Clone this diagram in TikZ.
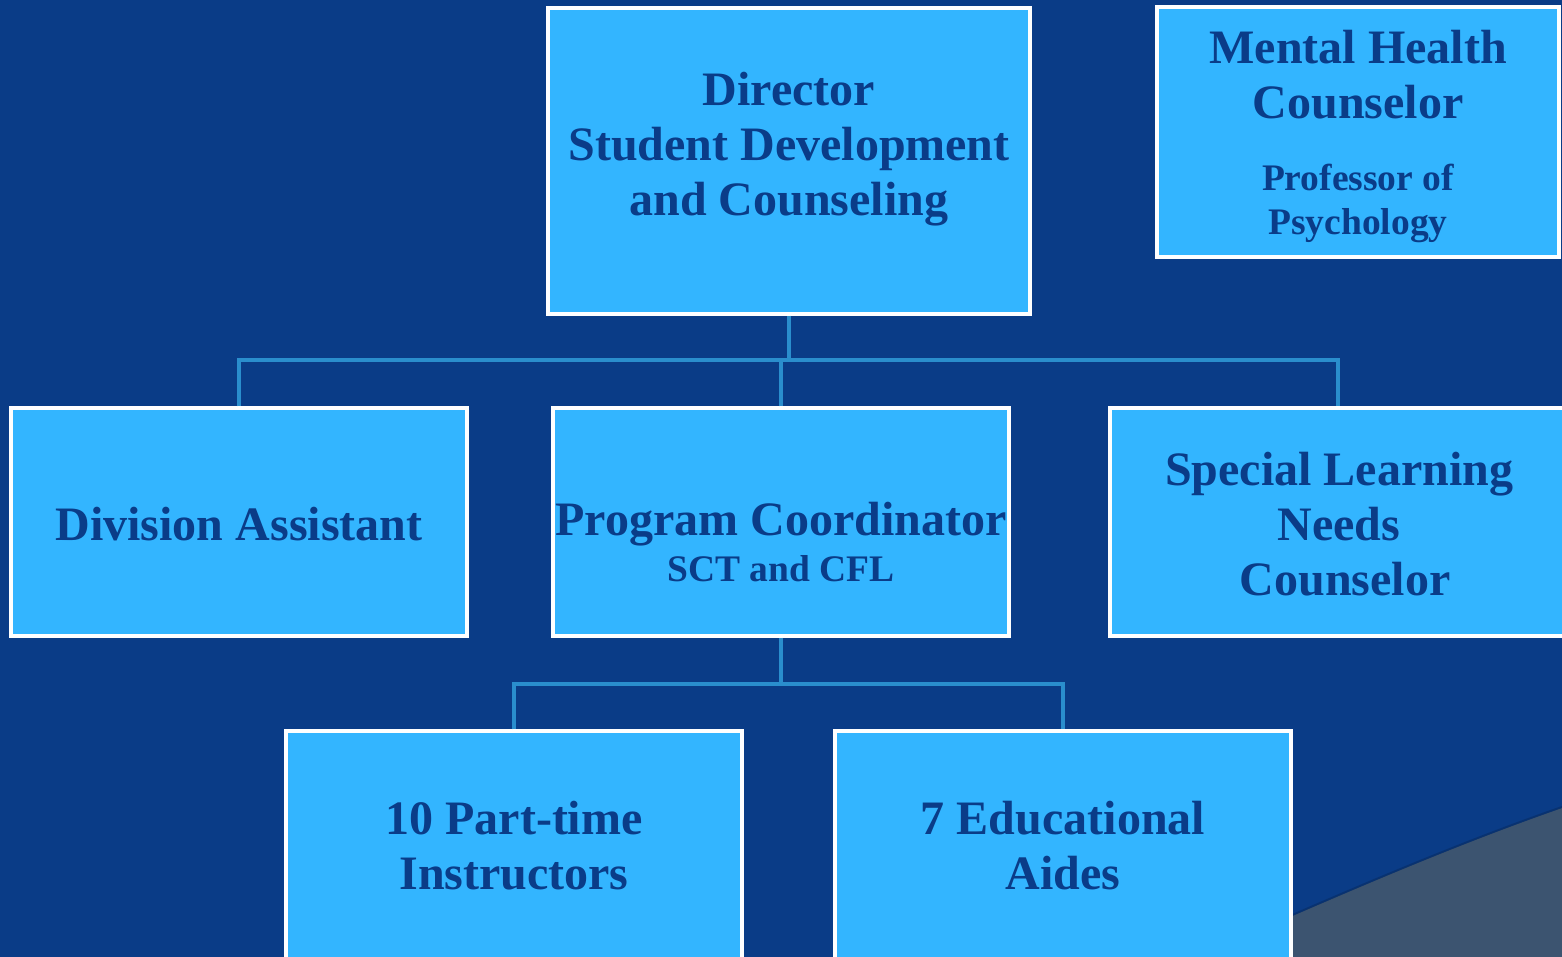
\documentclass[tikz,border=0pt]{standalone}
\usepackage{fontspec}
\setmainfont{Liberation Serif}
\usetikzlibrary{positioning}
\definecolor{bgblue}{HTML}{0A3C87}
\definecolor{boxblue}{HTML}{33B5FF}
\definecolor{txtblue}{HTML}{0A3C88}
\definecolor{connblue}{HTML}{2A8ECD}
\definecolor{swoosh}{HTML}{3C5470}
\newcommand{\bigf}{\fontsize{48}{55}\selectfont\bfseries}
\newcommand{\smallf}{\fontsize{37.5}{44}\selectfont\bfseries}
\newcommand{\stack}[1]{\begin{tabular}[t]{@{}c@{}}#1\end{tabular}}
\tikzset{
  orgbox/.style={draw=white, line width=3.5pt, fill=boxblue, rectangle, inner sep=0pt},
  lbl/.style={anchor=base, text=txtblue, inner sep=0pt},
  conn/.style={draw=connblue, line width=3.5pt},
}
\begin{document}
\begin{tikzpicture}[x=1pt, y=-1pt]
\clip (0,0) rectangle (1562,957);
\fill[bgblue] (0,0) rectangle (1562,957);
% bottom-right swoosh
\fill[swoosh] (1290,917) .. controls (1380,878) and (1470,840) .. (1562,808) -- (1562,957) -- (1290,957) -- cycle;
\draw[black!40!bgblue, line width=2pt, opacity=0.4] (1290,916) .. controls (1380,877) and (1470,839) .. (1562,807);

% boxes
\node[orgbox, minimum width=482, minimum height=306] (dir) at (789,161) {};
\node[orgbox, minimum width=402, minimum height=250] (mh) at (1358,132) {};
\node[orgbox, minimum width=456, minimum height=228] (da) at (239,522) {};
\node[orgbox, minimum width=456, minimum height=228] (pc) at (781,522) {};
\node[orgbox, minimum width=456, minimum height=228] (sl) at (1338,522) {};
\node[orgbox, minimum width=456, minimum height=240] (pt) at (514,851) {};
\node[orgbox, minimum width=456, minimum height=240] (ea) at (1063,851) {};

% connectors
\coordinate (j1) at (789,360);
\coordinate (j2) at (781,684);
\draw[conn] (dir.south) -- (j1);
\draw[conn] (da.north) |- (sl.north |- j1) -- (sl.north);
\draw[conn] (pc.north) -- (pc.north |- j1);
\draw[conn] (pc.south) -- (j2);
\draw[conn] (pt.north) |- (ea.north |- j2) -- (ea.north);

% labels
\node[lbl, font=\bigf] (tdir) at (789,106) {\stack{Director\\Student Development\\and Counseling}};
\node[lbl, font=\bigf] (tmh1) at (1358,64) {\stack{Mental Health\\Counselor}};
\node[lbl, font=\smallf] (tmh2) at (1358,191) {\stack{Professor of\\Psychology}};
\node[lbl, font=\bigf] (tda) at (239,540) {Division Assistant};
\node[lbl, font=\bigf] (tpc1) at (781,535) {Program Coordinator};
\node[lbl, font=\smallf] (tpc2) at (781,581) {SCT and CFL};
\node[lbl, font=\bigf] (tsl) at (1339,485) {\stack{Special Learning\\Needs\\\ Counselor}};
\node[lbl, font=\bigf] (tpt) at (514,834) {\stack{10 Part-time\\Instructors}};
\node[lbl, font=\bigf] (tea) at (1063,834) {\stack{7 Educational\\Aides}};
\end{tikzpicture}
\end{document}
